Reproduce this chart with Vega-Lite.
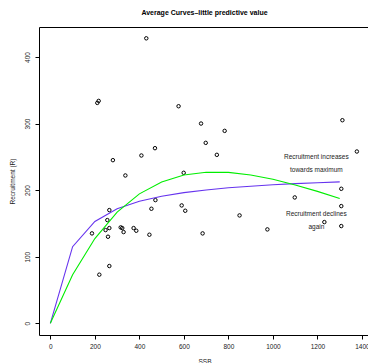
{
  "$schema": "https://vega.github.io/schema/vega-lite/v6.json",
  "autosize": {"type": "none"},
  "padding": {"left": 39, "top": 27, "right": 0, "bottom": 28},
  "width": 331,
  "height": 308,
  "background": "white",
  "view": {"stroke": "black", "strokeWidth": 1, "fill": "white"},
  "title": {"text": "Average Curves\u2013little predictive value", "fontSize": 7, "font": "Liberation Sans", "fontWeight": "bold", "color": "black", "offset": 11, "anchor": "middle"},
  "config": {
    "axis": {"grid": false, "domain": false, "tickColor": "black", "tickSize": 4, "labelFont": "Liberation Sans", "labelFontSize": 6.5, "labelColor": "#222", "titleFont": "Liberation Sans", "titleFontSize": 6.5, "titleFontWeight": "normal", "titleColor": "#222"}
  },
  "datasets": {
    "pts": [
      {"SSB": 431, "R": 428}, {"SSB": 217, "R": 334}, {"SSB": 211, "R": 331}, {"SSB": 576, "R": 326},
      {"SSB": 470, "R": 263}, {"SSB": 409, "R": 252}, {"SSB": 281, "R": 245}, {"SSB": 337, "R": 222},
      {"SSB": 599, "R": 226}, {"SSB": 677, "R": 300}, {"SSB": 783, "R": 289}, {"SSB": 698, "R": 271},
      {"SSB": 748, "R": 253}, {"SSB": 1312, "R": 305}, {"SSB": 1377, "R": 258}, {"SSB": 1307, "R": 202},
      {"SSB": 1098, "R": 189}, {"SSB": 1307, "R": 176}, {"SSB": 850, "R": 162}, {"SSB": 975, "R": 141},
      {"SSB": 684, "R": 135}, {"SSB": 1231, "R": 152}, {"SSB": 1307, "R": 146}, {"SSB": 472, "R": 185},
      {"SSB": 454, "R": 172}, {"SSB": 590, "R": 177}, {"SSB": 606, "R": 169}, {"SSB": 265, "R": 170},
      {"SSB": 256, "R": 155}, {"SSB": 265, "R": 143}, {"SSB": 248, "R": 140}, {"SSB": 259, "R": 130},
      {"SSB": 187, "R": 135}, {"SSB": 316, "R": 144}, {"SSB": 323, "R": 143}, {"SSB": 329, "R": 137},
      {"SSB": 374, "R": 143}, {"SSB": 386, "R": 139}, {"SSB": 445, "R": 133}, {"SSB": 265, "R": 86},
      {"SSB": 220, "R": 73}
    ],
    "bh": [
      {"SSB": 0, "R": 0}, {"SSB": 100, "R": 115}, {"SSB": 200, "R": 153}, {"SSB": 300, "R": 172},
      {"SSB": 400, "R": 183.3}, {"SSB": 500, "R": 190.9}, {"SSB": 600, "R": 196.2}, {"SSB": 700, "R": 200.3},
      {"SSB": 800, "R": 203.5}, {"SSB": 900, "R": 205.9}, {"SSB": 1000, "R": 208}, {"SSB": 1100, "R": 209.7},
      {"SSB": 1200, "R": 211.1}, {"SSB": 1300, "R": 212.4}
    ],
    "ricker": [
      {"SSB": 0, "R": 0}, {"SSB": 100, "R": 72.9}, {"SSB": 200, "R": 127.3}, {"SSB": 300, "R": 166.9},
      {"SSB": 400, "R": 194.4}, {"SSB": 500, "R": 212.3}, {"SSB": 600, "R": 222.6}, {"SSB": 700, "R": 226.9},
      {"SSB": 800, "R": 226.6}, {"SSB": 900, "R": 222.7}, {"SSB": 1000, "R": 216.2}, {"SSB": 1100, "R": 207.8},
      {"SSB": 1200, "R": 198.1}, {"SSB": 1300, "R": 187.5}
    ],
    "notes": [
      {"SSB": 1195, "R": 250, "label": "Recruitment increases"},
      {"SSB": 1195, "R": 230, "label": "towards maximum"},
      {"SSB": 1195, "R": 164, "label": "Recruitment declines"},
      {"SSB": 1195, "R": 144, "label": "again"}
    ]
  },
  "layer": [
    {
      "data": {"name": "pts"},
      "mark": {"type": "point", "shape": "circle", "filled": false, "color": "black", "size": 12, "strokeWidth": 1, "opacity": 1},
      "encoding": {
        "x": {"field": "SSB", "type": "quantitative", "scale": {"domain": [-51, 1436], "nice": false, "zero": false},
          "axis": {"values": [0, 200, 400, 600, 800, 1000, 1200, 1400], "format": "d", "title": "SSB", "titlePadding": 9, "labelPadding": 4, "labelOverlap": false, "labelBound": false}},
        "y": {"field": "R", "type": "quantitative", "scale": {"domain": [-17.6, 445], "nice": false, "zero": false},
          "axis": {"values": [0, 100, 200, 300, 400], "format": "d", "title": "Recruitment (R)", "labelAngle": -90, "labelAlign": "center", "labelBaseline": "bottom", "labelPadding": 5, "titlePadding": 9}}
      }
    },
    {
      "data": {"name": "bh"},
      "mark": {"type": "line", "color": "#6633ee", "strokeWidth": 1.1},
      "encoding": {"x": {"field": "SSB", "type": "quantitative"}, "y": {"field": "R", "type": "quantitative"}}
    },
    {
      "data": {"name": "ricker"},
      "mark": {"type": "line", "color": "#00ee00", "strokeWidth": 1.1},
      "encoding": {"x": {"field": "SSB", "type": "quantitative"}, "y": {"field": "R", "type": "quantitative"}}
    },
    {
      "data": {"name": "notes"},
      "mark": {"type": "text", "font": "Liberation Sans", "fontSize": 6.5, "color": "#222", "align": "center", "baseline": "middle"},
      "encoding": {"x": {"field": "SSB", "type": "quantitative"}, "y": {"field": "R", "type": "quantitative"}, "text": {"field": "label"}}
    }
  ]
}
